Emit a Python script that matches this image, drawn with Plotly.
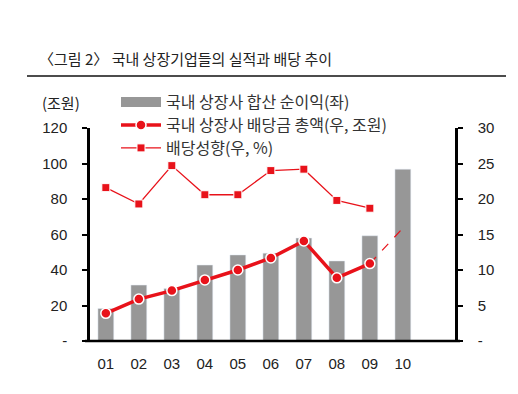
import plotly.graph_objects as go

years = ["01", "02", "03", "04", "05", "06", "07", "08", "09", "10"]
net_profit = [18.3, 31.5, 29.6, 42.8, 48.5, 49.5, 58.0, 45.1, 59.3, 96.8]
dividend = [3.9, 5.9, 7.1, 8.6, 10.0, 11.7, 14.1, 8.9, 10.9, None]
dividend_proj = [None, None, None, None, None, None, None, None, 10.9, 15.9]
payout = [21.6, 19.3, 24.7, 20.6, 20.6, 24.0, 24.2, 19.8, 18.7, None]

left_ticks = [0, 20, 40, 60, 80, 100, 120]
left_labels = ["-", "20", "40", "60", "80", "100", "120"]
right_ticks = [0, 5, 10, 15, 20, 25, 30]
right_labels = ["-", "5", "10", "15", "20", "25", "30"]

RED = "#e8121a"
GRAY = "#979797"
W, H = 518, 394
xs = list(range(len(years)))


def px(pix):
    return pix / W


def py(pix):
    return (H - pix) / H


fig = go.Figure()
fig.add_trace(go.Bar(x=xs, y=net_profit, marker_color=GRAY, width=0.48,
                     showlegend=False, yaxis="y"))
# legend proxy for bars
fig.add_trace(go.Scatter(x=[None], y=[None], mode="lines", name="국내 상장사 합산 순이익(좌)",
                         line=dict(color=GRAY, width=11), yaxis="y", legend="legend"))
fig.add_trace(go.Scatter(x=xs, y=dividend_proj, mode="lines", showlegend=False,
                         line=dict(color=RED, width=1.2, dash="dash"), yaxis="y2"))
fig.add_trace(go.Scatter(x=xs, y=dividend, mode="lines+markers", name="국내 상장사 배당금 총액(우, 조원)",
                         line=dict(color=RED, width=3.5),
                         marker=dict(symbol="circle", size=10, color=RED,
                                     line=dict(color="white", width=1.5)), yaxis="y2",
                         legend="legend2"))
fig.add_trace(go.Scatter(x=xs, y=payout, mode="lines+markers", name="배당성향(우, %)",
                         line=dict(color=RED, width=1.3),
                         marker=dict(symbol="square", size=8, color=RED,
                                     line=dict(color="white", width=1)), yaxis="y2",
                         legend="legend3"))

tickfont = dict(family="Liberation Sans, Arial", size=15, color="#222222")
legfont = dict(family="Noto Sans CJK KR", size=16, color="#333333")


def leg(ycenter):
    return dict(x=px(116), y=py(ycenter), xanchor="left", yanchor="middle",
                bgcolor="rgba(0,0,0,0)", font=legfont, itemwidth=40,
                borderwidth=0)


fig.update_layout(
    width=W, height=H,
    margin=dict(l=0, r=0, t=0, b=0, pad=0, autoexpand=False),
    paper_bgcolor="white", plot_bgcolor="white",
    xaxis=dict(domain=[px(90), px(455)], range=[-0.48, 10.58], tickvals=xs, ticktext=years,
               showgrid=False, zeroline=False, showline=False, ticks="", tickfont=tickfont,
               ticklabelstandoff=12),
    yaxis=dict(domain=[py(341), py(128)], range=[0, 120], tickvals=left_ticks,
               ticktext=left_labels, showgrid=False,
               zeroline=False, showline=True, linecolor="black", linewidth=2.5,
               ticks="outside", ticklen=5, tickwidth=2, tickcolor="black",
               tickfont=tickfont, ticklabelstandoff=12),
    yaxis2=dict(range=[0, 30], tickvals=right_ticks, ticktext=right_labels, overlaying="y",
                side="right", showgrid=False, zeroline=False, showline=True,
                linecolor="black", linewidth=2.5, ticks="outside", ticklen=5, tickwidth=2,
                tickcolor="black", tickfont=tickfont, ticklabelstandoff=12),
    legend=leg(102),
    legend2=leg(125),
    legend3=leg(148),
    showlegend=True,
    shapes=[
        dict(type="line", xref="paper", yref="paper", x0=px(85), x1=px(460),
             y0=py(341), y1=py(341), line=dict(color="black", width=2.5)),
        dict(type="line", xref="paper", yref="paper", x0=px(27), x1=px(506),
             y0=py(76), y1=py(76), line=dict(color="#111111", width=1.5)),
    ],
    annotations=[
        dict(text="〈그림 2〉 국내 상장기업들의 실적과 배당 추이", xref="paper", yref="paper",
             x=px(37), y=py(58), xanchor="left", yanchor="middle",
             showarrow=False, font=dict(family="Noto Sans CJK KR", size=15, color="#222222")),
        dict(text="(조원)", xref="paper", yref="paper",
             x=px(40), y=py(102), xanchor="left", yanchor="middle",
             showarrow=False, font=dict(family="Noto Sans CJK KR", size=15, color="#222222")),
    ],
)

fig.write_html("out.html", config={"displayModeBar": False},
               post_script="document.body.style.margin='0';")
